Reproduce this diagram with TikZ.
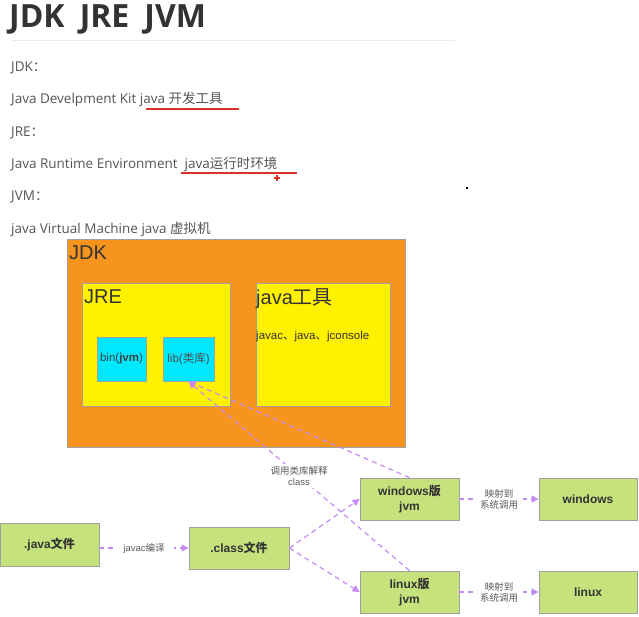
\documentclass[tikz,border=0pt]{standalone}
\usepackage{fontspec}
\setmainfont{Open Sans}
\newfontfamily\cjk{Noto Sans CJK SC}
\newfontfamily\arial{Liberation Sans}
\usetikzlibrary{arrows.meta}
\definecolor{jdkorange}{HTML}{F7941E}
\definecolor{jreyellow}{HTML}{FFF100}
\definecolor{libcyan}{HTML}{00E8FF}
\definecolor{boxgreen}{HTML}{C6E27C}
\definecolor{boxedge}{HTML}{A0A0A0}
\definecolor{arrpurple}{HTML}{C48CF2}
\definecolor{bodytext}{HTML}{555555}
\definecolor{titletext}{HTML}{333333}
\definecolor{redline}{HTML}{E0302A}
\tikzset{
  txt/.style={anchor=base west, inner sep=0pt, text=bodytext, font=\fontsize{13.5}{16}\selectfont},
  region/.style={draw=boxedge, line width=0.8pt, inner sep=0pt},
  greenbox/.style={draw=boxedge, line width=0.8pt, fill=boxgreen, inner sep=0pt, align=center,
     font=\arial\bfseries\fontsize{12}{14.5}\selectfont, text=black!80},
  arr/.style={draw=arrpurple, line width=1.2pt, dash pattern=on 5pt off 4pt,
     -{Triangle[length=7pt,width=7pt,fill=arrpurple]}},
  lbl/.style={fill=white, inner sep=3pt, text=black!65, align=center,
     font=\arial\fontsize{9.5}{11}\selectfont},
  boxlabel/.style={anchor=north west, inner sep=0pt, text=black!80, font=\arial\fontsize{20}{22}\selectfont}
}
\begin{document}
\begin{tikzpicture}[x=1pt,y=-1pt]
\useasboundingbox (0,0) rectangle (639,616);
\fill[white] (0,0) rectangle (639,616);
% title
\node[anchor=base west, inner sep=0pt, text=titletext, font=\bfseries\fontsize{32}{35}\selectfont] (title) at (9,27) {JDK\hspace{0.47em}JRE\hspace{0.47em}JVM};
\draw[black!8, line width=0.8pt] (12,40) -- (455,40);
% body text
\node[txt] (t1) at (11,71) {JDK{\cjk ：}};
\node[txt] (t2) at (11,103) {Java Develpment Kit java {\cjk 开发工具}};
\node[txt] (t3) at (11,136) {JRE{\cjk ：}};
\node[txt] (t4) at (11,168) {Java Runtime Environment\ \ java{\cjk 运行时环境}};
\node[txt] (t5) at (11,200) {JVM{\cjk ：}};
\node[txt] (t6) at (11,233) {java Virtual Machine java {\cjk 虚拟机}};
\draw[redline, line width=1.6pt] (146,109) -- (239,109);
\draw[redline, line width=1.6pt] (181,173) -- (297,173);
\draw[redline, line width=1.2pt] (274,178) -- (280,178) (277,175) -- (277,181);
\fill[black] (466.3,187.3) rectangle (467.7,188.7);
% JDK diagram
\node[region, fill=jdkorange, minimum width=338pt, minimum height=208pt] (jdk) at (236,343) {};
\node[boxlabel] at (69,246) {JDK};
\node[region, fill=jreyellow, minimum width=148pt, minimum height=123pt] (jre) at (156,344.5) {};
\node[boxlabel] at (84,290) {JRE};
\node[region, fill=jreyellow, minimum width=134pt, minimum height=123pt] (tools) at (323,344.5) {};
\node[boxlabel] at (256,288) {java{\cjk 工具}};
\node[anchor=west, inner sep=0pt, text=black!80, font=\arial\fontsize{11.5}{13}\selectfont] at (256,337) {javac{\cjk 、}java{\cjk 、}jconsole};
\node[region, fill=libcyan, minimum width=49pt, minimum height=44pt, text=black!75, font=\arial\fontsize{11.5}{13}\selectfont] (bin) at (121.5,359) {bin(\textbf{jvm})};
\node[region, fill=libcyan, minimum width=51pt, minimum height=44pt, text=black!70, font=\arial\fontsize{11.5}{13}\selectfont] (lib) at (188.5,359) {lib({\cjk 类库})};
% flow boxes
\node[greenbox, minimum width=99pt, minimum height=43pt] (javaf) at (49.5,544.5) {.java{\cjk\bfseries 文件}};
\node[greenbox, minimum width=100pt, minimum height=42pt] (classf) at (239,548) {.class{\cjk\bfseries 文件}};
\node[greenbox, minimum width=99pt, minimum height=42pt] (winjvm) at (409.5,499) {windows{\cjk\bfseries 版}\\jvm};
\node[greenbox, minimum width=98pt, minimum height=42pt] (win) at (588,499) {windows};
\node[greenbox, minimum width=99pt, minimum height=42pt] (linjvm) at (409.5,592) {linux{\cjk\bfseries 版}\\jvm};
\node[greenbox, minimum width=98pt, minimum height=42pt] (lin) at (588,592) {linux};
% connectors
\draw[arr] (javaf.east |- classf.west) -- node[lbl, inner xsep=9pt]{javac{\cjk 编译}} (classf.west);
\draw[arr] (classf.east) -- (winjvm.west);
\draw[arr] (classf.east) -- (linjvm.west);
\draw[arr] (winjvm) -- node[lbl, inner xsep=5pt]{{\cjk 映射到}\\{\cjk 系统调用}} (win);
\draw[arr] (linjvm) -- node[lbl, inner xsep=5pt]{{\cjk 映射到}\\{\cjk 系统调用}} (lin);
\draw[arr] (winjvm.north) -- (lib.south);
\draw[arr] (linjvm.north) -- node[lbl, pos=0.5, inner sep=2pt]{{\cjk 调用类库解释}\\class} (lib.south);
\end{tikzpicture}
\end{document}
